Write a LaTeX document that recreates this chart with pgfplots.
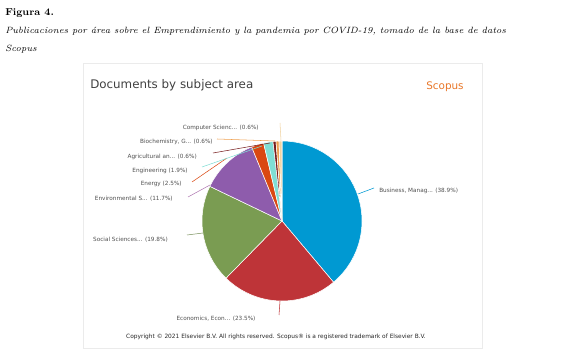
\documentclass[border=0pt]{standalone}
\usepackage{pgfplots}
\pgfplotsset{compat=1.18}
\usepackage{fontspec}
\newfontfamily\dv{DejaVu Sans}
\definecolor{cBus}{RGB}{0,153,210}
\definecolor{cEco}{RGB}{190,52,56}
\definecolor{cSoc}{RGB}{122,156,82}
\definecolor{cEnv}{RGB}{142,92,172}
\definecolor{cEne}{RGB}{218,72,18}
\definecolor{cEng}{RGB}{128,222,212}
\definecolor{cAgr}{RGB}{120,30,30}
\definecolor{cBio}{RGB}{238,160,80}
\definecolor{cCom}{RGB}{240,210,160}
\definecolor{scopus}{RGB}{232,118,40}
\definecolor{txt}{RGB}{80,80,80}
\begin{document}
\begin{tikzpicture}
\begin{axis}[width=441pt,height=264pt,scale only axis,hide axis,
  xmin=0,xmax=588,ymin=0,ymax=352,clip=false]
\path (axis cs:0,0) rectangle (axis cs:588,352);
% caption
\node[anchor=west,inner sep=0pt,font=\fontsize{7.5}{9}\selectfont\bfseries] at (axis cs:5,339) {Figura 4.};
\node[anchor=west,inner sep=0pt,font=\fontsize{6.8}{9}\selectfont\itshape] at (axis cs:5,321) {Publicaciones por área sobre el Emprendimiento y la pandemia por COVID-19, tomado de la base de datos};
\node[anchor=west,inner sep=0pt,font=\fontsize{6.8}{9}\selectfont\itshape] at (axis cs:5,303) {Scopus};
% panel
\draw[black!8] (axis cs:83,4) rectangle (axis cs:482,289);
\node[anchor=west,inner sep=0pt,font=\dv\fontsize{8.9}{10}\selectfont,text=black!75] at (axis cs:90,267) {Documents by subject area};
\node[anchor=center,font=\dv\fontsize{7.8}{9}\selectfont,text=scopus] at (axis cs:445,265) {Scopus};
% pie slices (percentages)
\gdef\cum{0}
\foreach \p/\c in {38.9/cBus,23.5/cEco,19.8/cSoc,11.7/cEnv,2.5/cEne,1.9/cEng,0.6/cAgr,0.6/cBio,0.6/cCom}{
  \pgfmathsetmacro\a{90-\cum*3.5964}
  \pgfmathsetmacro\newcum{\cum+\p}
  \pgfmathsetmacro\b{90-\newcum*3.5964}
  \edef\tmp{\noexpand\addplot[fill=\c,draw=white,line width=0.4pt,domain=\b:\a,samples=60] ({282+80*cos(x)},{131+80*sin(x)}) -- (axis cs:282,131) -- cycle;}
  \tmp
  \xdef\cum{\newcum}
}
% connectors
\addplot[cBus,line width=0.4pt] coordinates {(358,158) (374,164)};
\addplot[cEco,line width=0.4pt] coordinates {(280,51) (279,37)};
\addplot[cSoc!70!gray,line width=0.4pt] coordinates {(203,119) (187,117)};
\addplot[cEnv!70!pink,line width=0.4pt] coordinates {(210,167) (188,155)};
\addplot[cEne,line width=0.4pt] coordinates {(227,194) (192,170)};
\addplot[cEng,line width=0.4pt] coordinates {(262,206) (202,185)};
\addplot[cAgr,line width=0.4pt] coordinates {(270,209) (213,199)};
\addplot[cBio,line width=0.4pt] coordinates {(275,211) (217,213)};
\addplot[cCom,line width=0.4pt] coordinates {(281,211) (280,229)};
% labels
\begin{scope}[every node/.style={font=\dv\fontsize{4.3}{5}\selectfont,text=txt,inner sep=0pt}]
\node[anchor=west] at (axis cs:379,161) {Business, Manag... (38.9\%)};
\node[anchor=center] at (axis cs:216,33) {Economics, Econ... (23.5\%)};
\node[anchor=east] at (axis cs:168,112) {Social Sciences... (19.8\%)};
\node[anchor=east] at (axis cs:173,153) {Environmental S... (11.7\%)};
\node[anchor=east] at (axis cs:182,168) {Energy (2.5\%)};
\node[anchor=east] at (axis cs:188,181) {Engineering (1.9\%)};
\node[anchor=east] at (axis cs:197,195) {Agricultural an... (0.6\%)};
\node[anchor=east] at (axis cs:213,210) {Biochemistry, G... (0.6\%)};
\node[anchor=east] at (axis cs:259,224) {Computer Scienc... (0.6\%)};
\node[anchor=center,font=\dv\fontsize{4.4}{5}\selectfont,text=black!85] at (axis cs:276,15) {Copyright © 2021 Elsevier B.V. All rights reserved. Scopus® is a registered trademark of Elsevier B.V.};
\end{scope}
\end{axis}
\end{tikzpicture}
\end{document}
